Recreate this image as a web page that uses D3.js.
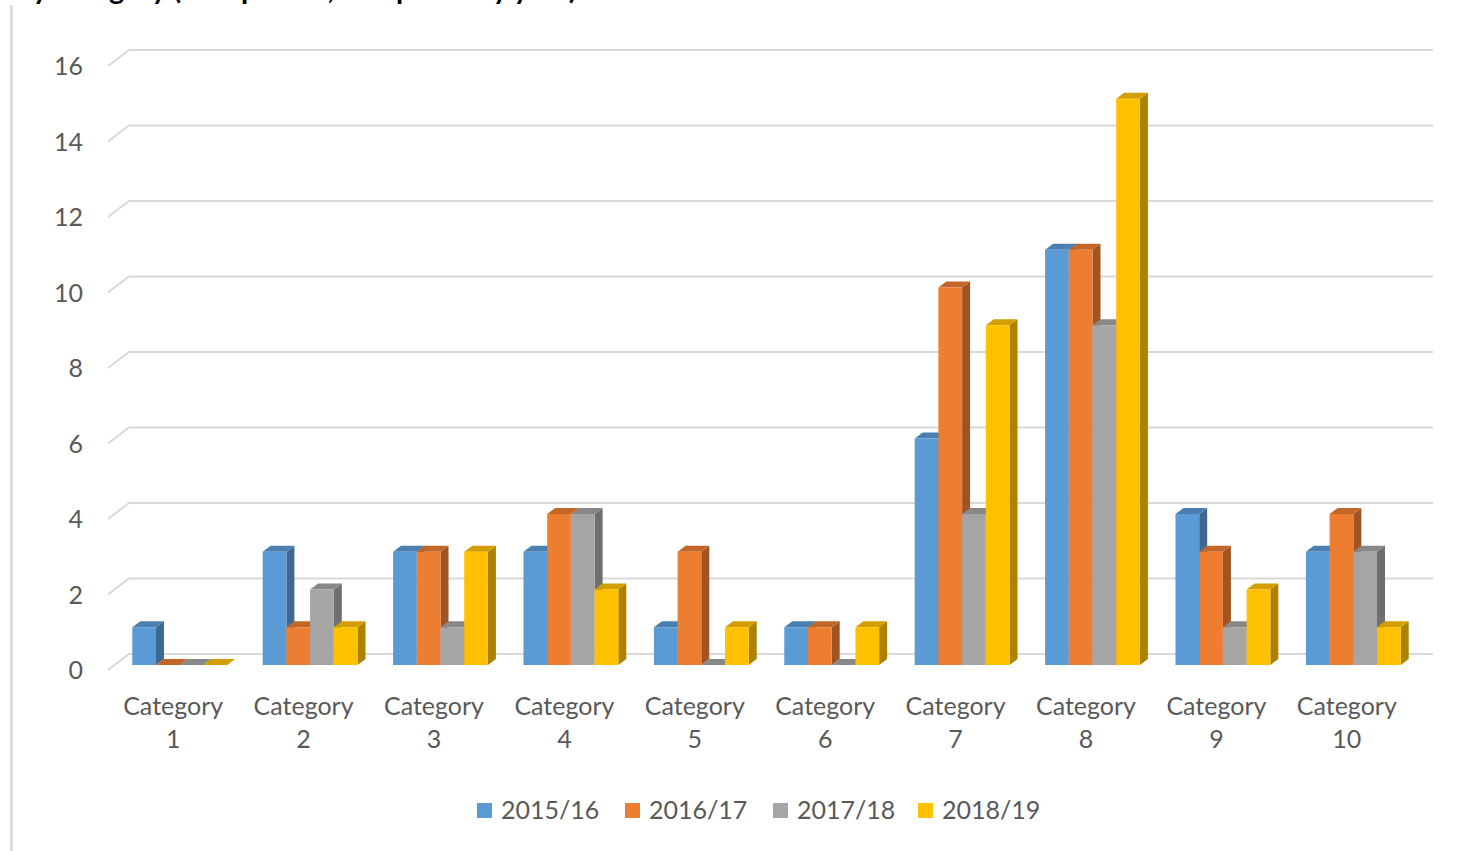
<!DOCTYPE html>
<html>
<head>
<meta charset="utf-8">
<script src="https://cdn.jsdelivr.net/npm/d3@7"></script>
<style>
  body { margin: 0; background: #fff; }
  text { font-family: Lato, "Open Sans", sans-serif; }
</style>
</head>
<body>
<script>
// chart values
const categories = ["Category 1", "Category 2", "Category 3", "Category 4", "Category 5",
                    "Category 6", "Category 7", "Category 8", "Category 9", "Category 10"];
const seriesNames = ["2015/16", "2016/17", "2017/18", "2018/19"];
const values2015 = [1, 3, 3, 3, 1, 1, 6, 11, 4, 3];
const values2016 = [0, 1, 3, 4, 3, 1, 10, 11, 3, 4];
const values2017 = [0, 2, 1, 4, 0, 0, 4, 9, 1, 3];
const values2018 = [0, 1, 3, 2, 1, 1, 9, 15, 2, 1];
const yTicks = [0, 2, 4, 6, 8, 10, 12, 14, 16];
const colors = ["#5B9BD5", "#ED7D31", "#A5A5A5", "#FFC000"];
const titleText = "By category (as reported, compared by year)";

const width = 1475, height = 851;

const series = [values2015, values2016, values2017, values2018];

// 3d depth of the plot box and of each bar
const depthX = 21, depthY = -16;
const barDX = 8, barDY = -6;
const offX = 6.5, offY = -5;

const svg = d3.select("body").append("svg")
    .attr("width", width)
    .attr("height", height)
    .attr("viewBox", [0, 0, width, height]);

svg.append("rect").attr("width", width).attr("height", height).attr("fill", "white");

// chart border (left edge only visible)
svg.append("line")
    .attr("x1", 11.5).attr("x2", 11.5)
    .attr("y1", 5).attr("y2", height)
    .attr("stroke", "#D9D9D9").attr("stroke-width", 2.5);

// title, cut off at the top (only descenders show)
svg.append("text")
    .attr("x", 14)
    .attr("y", -1)
    .attr("font-size", 29)
    .attr("font-weight", "bold")
    .attr("fill", "#000")
    .text(titleText);

const x = d3.scaleBand()
    .domain(categories)
    .range([108, 1412]);

const gapHalf = x.bandwidth() * 0.75 / 5.5;
const xs = d3.scaleBand()
    .domain(seriesNames)
    .range([gapHalf, x.bandwidth() - gapHalf]);

const y = d3.scaleLinear()
    .domain([0, 16])
    .range([670, 66]);

// gridlines on back wall with the diagonal on the side wall
const grid = svg.append("g")
    .attr("fill", "none")
    .attr("stroke", "#D9D9D9")
    .attr("stroke-width", 2);

grid.selectAll("path")
    .data(yTicks)
    .join("path")
    .attr("d", d => {
        const x0 = x.range()[0], x1 = x.range()[1];
        return `M${x0},${y(d)}L${x0 + depthX},${y(d) + depthY}L${x1 + depthX},${y(d) + depthY}`;
    });

// y axis labels
svg.append("g")
    .selectAll("text")
    .data(yTicks)
    .join("text")
    .attr("x", 83)
    .attr("y", d => y(d))
    .attr("dy", "0.36em")
    .attr("text-anchor", "end")
    .attr("font-size", 25)
    .attr("fill", "#595959")
    .text(d => d);

// bars, drawn left to right so later bars cover earlier side faces
const bars = [];
categories.forEach((c, i) => {
    seriesNames.forEach((s, j) => {
        bars.push({ cat: c, name: s, value: series[j][i], color: colors[j] });
    });
});

const barG = svg.append("g");

bars.forEach(b => {
    const x0 = x(b.cat) + xs(b.name) + offX;
    const x1 = x0 + xs.bandwidth();
    const yb = y(0) + offY;
    const yt = y(b.value) + offY;
    const g = barG.append("g");
    const c = d3.color(b.color);
    // side
    g.append("path")
        .attr("d", `M${x1},${yb}L${x1 + barDX},${yb + barDY}L${x1 + barDX},${yt + barDY}L${x1},${yt}Z`)
        .attr("fill", c.darker(1.1));
    // top
    g.append("path")
        .attr("d", `M${x0},${yt}L${x1},${yt}L${x1 + barDX},${yt + barDY}L${x0 + barDX},${yt + barDY}Z`)
        .attr("fill", c.darker(0.55));
    // front
    g.append("rect")
        .attr("x", x0)
        .attr("y", yt)
        .attr("width", xs.bandwidth())
        .attr("height", yb - yt)
        .attr("fill", b.color);
});

// category labels (two lines)
const catLabels = svg.append("g")
    .selectAll("text")
    .data(categories)
    .join("text")
    .attr("x", d => x(d) + x.bandwidth() / 2)
    .attr("y", 715)
    .attr("text-anchor", "middle")
    .attr("font-size", 25)
    .attr("fill", "#595959");

catLabels.append("tspan")
    .attr("x", d => x(d) + x.bandwidth() / 2)
    .text(d => d.split(" ")[0]);
catLabels.append("tspan")
    .attr("x", d => x(d) + x.bandwidth() / 2)
    .attr("dy", 33)
    .text(d => d.split(" ")[1]);

// legend
const legendX = [477, 625, 773, 918];
const legend = svg.append("g")
    .selectAll("g")
    .data(seriesNames)
    .join("g")
    .attr("transform", (d, i) => `translate(${legendX[i]},803)`);

legend.append("rect")
    .attr("width", 15)
    .attr("height", 15)
    .attr("fill", (d, i) => colors[i]);

legend.append("text")
    .attr("x", 24)
    .attr("y", 16)
    .attr("font-size", 25)
    .attr("fill", "#595959")
    .text(d => d);
</script>
</body>
</html>
